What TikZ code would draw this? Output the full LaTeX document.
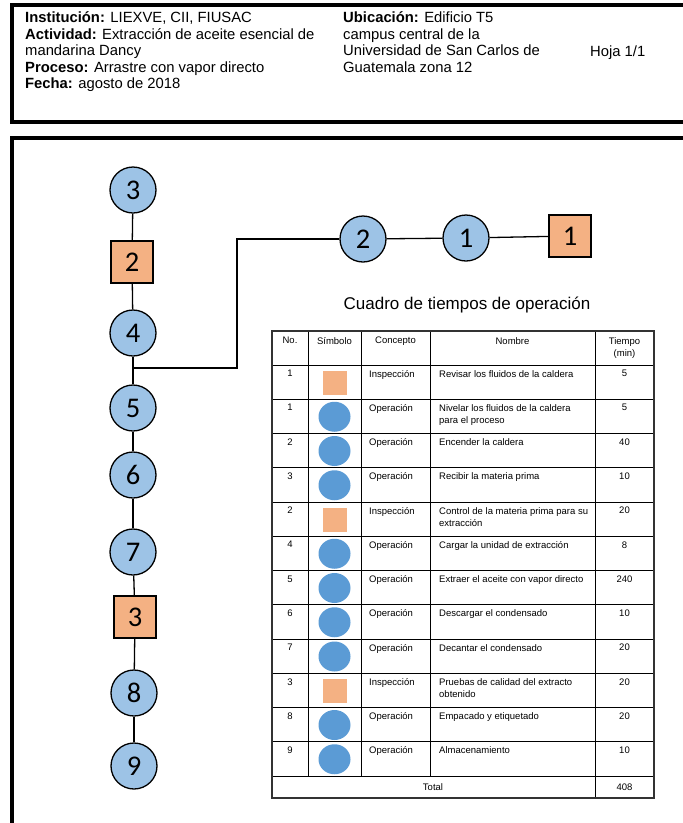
\documentclass[tikz,border=0pt]{standalone}
\usepackage{fontspec}
\setmainfont{Liberation Sans}
\newfontfamily\digitfont{Carlito}
\usetikzlibrary{shapes.geometric}

\definecolor{opblue}{HTML}{9DC3E6}
\definecolor{inorange}{HTML}{F4B183}
\definecolor{tabblue}{HTML}{5B9BD5}

\begin{document}
\begin{tikzpicture}[x=1pt,y=-1pt,
  frameline/.style={line width=4.5pt},
  link/.style={line width=1.3pt},
  opnode/.style={circle, draw=black, line width=1.3pt, fill=opblue,
    minimum size=46pt, inner sep=0pt, font=\digitfont\fontsize{28.5}{30}\selectfont},
  innode/.style={rectangle, draw=black, line width=1.3pt, fill=inorange,
    minimum size=42pt, inner sep=0pt, font=\digitfont\fontsize{28.5}{30}\selectfont},
  headtext/.style={anchor=north west, inner sep=0pt, align=left,
    font=\fontsize{14.8}{16.5}\selectfont},
  cell/.style={inner sep=0pt, font=\fontsize{9.5}{12}\selectfont},
  symI/.style={rectangle, fill=inorange, minimum width=24pt, minimum height=24pt, inner sep=0pt},
  symO/.style={ellipse, fill=tabblue, minimum width=32pt, minimum height=30pt, inner sep=0pt},
  grid/.style={line width=1pt}
]
\useasboundingbox (0,0) rectangle (683,823);

% page frames
\draw[frameline] (690,5) -- (12,5) -- (12,122) -- (690,122);
\draw[frameline] (690,138) -- (12,138) -- (12,830);

% header block
\node[headtext] (inst) at (25,11.5) {\textbf{Institución:} LIEXVE, CII, FIUSAC\\
\textbf{Actividad:} Extracción de aceite esencial de\\
mandarina Dancy\\
\textbf{Proceso:} Arrastre con vapor directo\\
\textbf{Fecha:} agosto de 2018};
\node[headtext] (ubic) at (343,11.5) {\textbf{Ubicación:} Edificio T5\\
campus central de la\\
Universidad de San Carlos de\\
Guatemala zona 12};
\node[headtext, anchor=west] (hoja) at (590,53) {Hoja 1/1};

% process chart
\node[opnode] (c3) at (133,190) {3};
\node[innode] (s2) at (132,262) {2};
\node[opnode] (c4) at (133,333) {4};
\coordinate (J) at (133,368);
\node[opnode] (c5) at (133,408) {5};
\node[opnode] (c6) at (133,475) {6};
\node[opnode] (c7) at (133,552) {7};
\node[innode] (s3) at (135,617) {3};
\node[opnode] (c8) at (134,693) {8};
\node[opnode] (c9) at (134,766) {9};

\coordinate (T) at (237,239);
\node[opnode] (c2) at (363,239) {2};
\node[opnode] (c1) at (466,238) {1};
\node[innode] (s1) at (570,236) {1};

\draw[link] (c3) -- (s2);
\draw[link] (s2) -- (c4);
\draw[link] (c4) -- (c5);
\draw[link] (c5) -- (c6);
\draw[link] (c6) -- (c7);
\draw[link] (c7) -- (s3);
\draw[link] (s3) -- (c8);
\draw[link] (c8) -- (c9);
\draw[link] (J) -| (T) -- (c2);
\draw[link] (c2) -- (c1);
\draw[link] (c1) -- (s1);

% time table
\node[font=\fontsize{17}{19}\selectfont, inner sep=0pt] (title) at (467,305) {Cuadro de tiempos de operación};

\foreach \yy in {365,399.25,433.5,467.75,502,536.25,570.5,604.75,639,673.25,707.5,741.75,776}
  \draw[grid] (272,\yy) -- (654,\yy);
\foreach \xx in {308,361,430}
  \draw[grid] (\xx,331) -- (\xx,776);
\draw[grid] (595,331) -- (595,798);
\draw[line width=1.3pt, black!80] (272,331) rectangle (654,798);

\node[cell, anchor=north] (hno) at (290,337) {No.};
\node[cell, anchor=north] (hsym) at (334.5,337) {Símbolo};
\node[cell, anchor=north] (hcon) at (395.5,337) {Concepto};
\node[cell, anchor=north] (hnom) at (512.5,337) {Nombre};
\node[cell, anchor=north, align=center] (htie) at (624.5,337) {Tiempo\\(min)};

\foreach \no/\s/\con/\nom/\t [count=\i] in {
  1/I/Inspección/{Revisar los fluidos de la caldera}/5,
  1/O/Operación/{Nivelar los fluidos de la caldera\\para el proceso}/5,
  2/O/Operación/{Encender la caldera}/40,
  3/O/Operación/{Recibir la materia prima}/10,
  2/I/Inspección/{Control de la materia prima para su\\extracción}/20,
  4/O/Operación/{Cargar la unidad de extracción}/8,
  5/O/Operación/{Extraer el aceite con vapor directo}/240,
  6/O/Operación/{Descargar el condensado}/10,
  7/O/Operación/{Decantar el condensado}/20,
  3/I/Inspección/{Pruebas de calidad del extracto\\obtenido}/20,
  8/O/Operación/{Empacado y etiquetado}/20,
  9/O/Operación/{Almacenamiento}/10}
{
  \pgfmathsetmacro{\top}{365+34.25*(\i-1)}
  \pgfmathsetmacro{\mid}{\top+17.5}
  \node[cell, anchor=north] (no\i) at (290,\top+5) {\no};
  \node[sym\s] (sym\i) at (334.5,\mid) {};
  \node[cell, anchor=north west] (con\i) at (369,\top+5) {\con};
  \node[cell, anchor=north west, align=left] (nom\i) at (439,\top+5) {\nom};
  \node[cell, anchor=north] (t\i) at (624.5,\top+5) {\t};
}

\node[cell] (total) at (433,787) {Total};
\node[cell] (tsum) at (624.5,787) {408};
\end{tikzpicture}
\end{document}
